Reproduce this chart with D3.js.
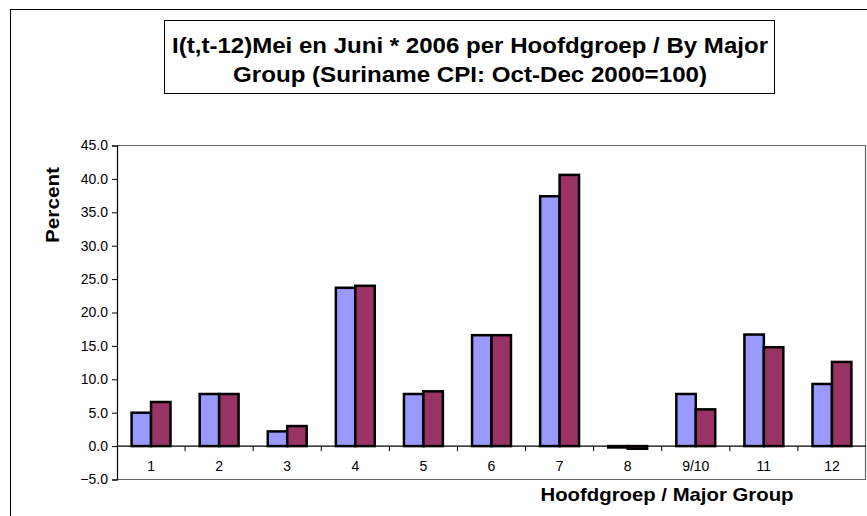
<!DOCTYPE html>
<html>
<head>
<meta charset="utf-8">
<script src="https://cdn.jsdelivr.net/npm/d3@7"></script>
<style>
  html, body { margin: 0; padding: 0; background: #fff; }
  svg { display: block; font-family: Arial, "Liberation Sans", sans-serif; }
</style>
</head>
<body>
<svg id="chart" width="867" height="516"></svg>
<script>
// ---- data ----
const categories = ["1", "2", "3", "4", "5", "6", "7", "8", "9/10", "11", "12"];
const seriesNames = ["Mei 2006", "Juni 2006"];
const meiValues  = [5.0, 7.8, 2.2, 23.7, 7.8, 16.6, 37.4, -0.2, 7.8, 16.7, 9.3];
const juniValues = [6.6, 7.8, 3.0, 24.0, 8.2, 16.6, 40.6, -0.4, 5.5, 14.8, 12.6];
const seriesColors = ["#9999FF", "#993366"];
const yTicks = [-5, 0, 5, 10, 15, 20, 25, 30, 35, 40, 45];
const titleLines = ["I(t,t-12)Mei en Juni * 2006 per Hoofdgroep / By Major", "Group (Suriname CPI: Oct-Dec 2000=100)"];
const yTitle = "Percent";
const xTitle = "Hoofdgroep / Major Group";

const series = [meiValues, juniValues];

const svg = d3.select("#chart");

// outer chart border (only left/top visible)
svg.append("rect")
  .attr("x", 10.5).attr("y", 9.5)
  .attr("width", 900).attr("height", 600)
  .attr("fill", "#fff").attr("stroke", "#000").attr("stroke-width", 1);

// title box
const title = svg.append("g");
title.append("rect")
  .attr("x", 164.5).attr("y", 20.5).attr("width", 610).attr("height", 73)
  .attr("fill", "#fff").attr("stroke", "#000").attr("stroke-width", 1);
const titleWidths = [596, 474];
title.selectAll("text").data(titleLines).join("text")
  .attr("x", 470).attr("y", (d, i) => 53 + i * 29)
  .attr("text-anchor", "middle")
  .attr("font-size", "22px").attr("font-weight", "bold")
  .attr("textLength", (d, i) => titleWidths[i])
  .attr("lengthAdjust", "spacingAndGlyphs")
  .text(d => d);

// scales
const plot = { left: 117, right: 866, top: 145.5, bottom: 479.5 };
const x0 = d3.scaleBand().domain(categories).range([plot.left, plot.right]).paddingInner(0).paddingOuter(0);
const x1 = d3.scaleBand().domain(d3.range(series.length)).range([0, x0.bandwidth()]).paddingInner(0).paddingOuter(0.75);
const y = d3.scaleLinear().domain([-5, 45]).range([plot.bottom, plot.top]);

// plot area border (gray)
svg.append("path")
  .attr("d", `M${plot.left},${plot.top}H${plot.right - 0.5}V${plot.bottom}H${plot.left}`)
  .attr("fill", "none").attr("stroke", "#666").attr("stroke-width", 1.2);

// bars
const groups = svg.append("g").selectAll("g").data(categories).join("g")
  .attr("transform", d => `translate(${x0(d)},0)`);
groups.selectAll("rect")
  .data((d, i) => series.map((s, k) => ({ k, v: s[i] })))
  .join("rect")
  .attr("x", d => x1(d.k))
  .attr("width", x1.bandwidth())
  .attr("y", d => y(Math.max(0, d.v)))
  .attr("height", d => Math.abs(y(d.v) - y(0)))
  .attr("fill", d => seriesColors[d.k])
  .attr("stroke", "#000").attr("stroke-width", 2.5);

// y axis
const yAxis = svg.append("g")
  .attr("transform", `translate(${plot.left},0)`)
  .call(d3.axisLeft(y).tickValues(yTicks).tickSize(5).tickPadding(4).tickFormat(d3.format(".1f")));
yAxis.select(".domain").attr("stroke", "#000").attr("stroke-width", 1.2);
yAxis.selectAll(".tick line").attr("stroke", "#000");
yAxis.selectAll(".tick text").attr("font-size", "14px").attr("font-family", "Arial, 'Liberation Sans', sans-serif").attr("fill", "#000");

// x axis at zero line
const xAxis = svg.append("g").attr("transform", `translate(0,${y(0)})`);
xAxis.append("line").attr("x1", plot.left).attr("x2", plot.right).attr("stroke", "#000").attr("stroke-width", 1.2);
xAxis.selectAll(".sep").data(categories.slice(1)).join("line")
  .attr("class", "sep")
  .attr("x1", d => x0(d)).attr("x2", d => x0(d))
  .attr("y1", 0).attr("y2", 5).attr("stroke", "#000");
xAxis.selectAll(".lbl").data(categories).join("text")
  .attr("class", "lbl")
  .attr("x", d => x0(d) + x0.bandwidth() / 2)
  .attr("y", 25)
  .attr("text-anchor", "middle")
  .attr("font-size", "14px")
  .text(d => d);

// axis titles
svg.append("text")
  .attr("transform", `translate(59,205) rotate(-90)`)
  .attr("text-anchor", "middle")
  .attr("font-size", "19px").attr("font-weight", "bold")
  .attr("textLength", 76).attr("lengthAdjust", "spacingAndGlyphs")
  .text(yTitle);
svg.append("text")
  .attr("x", 667).attr("y", 501)
  .attr("text-anchor", "middle")
  .attr("font-size", "19px").attr("font-weight", "bold")
  .attr("textLength", 253).attr("lengthAdjust", "spacingAndGlyphs")
  .text(xTitle);
</script>
</body>
</html>
